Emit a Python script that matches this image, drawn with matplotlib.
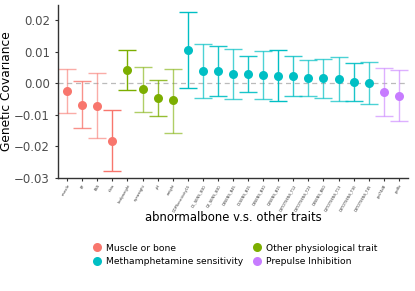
import matplotlib
matplotlib.use("Agg")
import matplotlib.pyplot as plt
from matplotlib.lines import Line2D

# trait names (tick labels are tiny in the source, approximated)
traits = ["muscle", "BF", "BSS", "tibia",
          "bodyweight", "eyeweight", "pH", "weight",
          "DOPSensitivity15", "D1_SENS_B30", "D2_SENS_B30", "D3SENS_B45",
          "D1SENS_B15", "D3SENS_B30", "D2SENS_B15", "D3TOTSENS_T12",
          "D3TOTSENS_T23", "D3SENS_B60", "D2TOTSENS_T13", "D3TOTSENS_T30",
          "D3TOTSENS_T45", "ppi74dB", "ppi8x"]
groups = ["Muscle or bone"] * 4 + ["Other physiological trait"] * 4 + \
         ["Methamphetamine sensitivity"] * 13 + ["Prepulse Inhibition"] * 2
cov = [-0.0024, -0.0069, -0.0071, -0.0182,
       0.0041, -0.0018, -0.0048, -0.0054,
       0.0106, 0.0039, 0.0039, 0.0031, 0.0031, 0.0025, 0.0024,
       0.0022, 0.0018, 0.0017, 0.0014, 0.0003, 0.0001,
       -0.0028, -0.0039]
upper = [0.0046, 0.0007, 0.0034, -0.0086,
         0.0106, 0.0053, 0.0010, 0.0046,
         0.0225, 0.0123, 0.0118, 0.0109, 0.0088, 0.0103, 0.0105,
         0.0085, 0.0073, 0.0078, 0.0082, 0.0064, 0.0068,
         0.0047, 0.0041]
lower = [-0.0094, -0.0143, -0.0173, -0.0276,
         -0.0022, -0.0091, -0.0104, -0.0156,
         -0.0014, -0.0045, -0.0040, -0.0049, -0.0028, -0.0051, -0.0056,
         -0.0041, -0.0039, -0.0046, -0.0055, -0.0057, -0.0067,
         -0.0102, -0.0120]
bar_alpha = [0.6, 0.8, 0.6, 1.0,
             1.0, 0.6, 0.8, 0.6,
             1.0, 0.7, 0.9, 0.7, 0.9, 0.7, 1.0,
             0.8, 0.7, 0.7, 0.7, 0.9, 0.7,
             0.6, 0.6]

palette = {"Muscle or bone": "#F8766D",
           "Other physiological trait": "#7CAE00",
           "Methamphetamine sensitivity": "#00BFC4",
           "Prepulse Inhibition": "#C77CFF"}

fig = plt.figure(figsize=(4.15, 2.91), dpi=100)
ax = fig.add_axes([0.14, 0.388, 0.843, 0.595])

ax.axhline(0, color="#bbbbbb", ls=(0, (4, 3)), lw=0.9, zorder=0)
for i, (c, lo, hi, g, a) in enumerate(zip(cov, lower, upper, groups, bar_alpha)):
    col = palette[g]
    ax.errorbar(i, c, yerr=[[c - lo], [hi - c]], fmt="none", ecolor=col,
                alpha=a, elinewidth=1.0, capsize=6.5, capthick=1.0)
    ax.plot(i, c, "o", color=col, ms=6.5, mew=0)

ax.set_xlim(-0.6, len(traits) - 0.4)
ax.set_ylim(-0.03, 0.0248)
ax.set_yticks([-0.03, -0.02, -0.01, 0.0, 0.01, 0.02])
ax.set_yticklabels(["\u22120.03", "\u22120.02", "\u22120.01", "0.00", "0.01", "0.02"])
ax.set_xticks(range(len(traits)))
ax.set_xticklabels(traits, rotation=60, ha="right", rotation_mode="anchor",
                   fontsize=2.6, color="#555555")
ax.tick_params(axis="y", labelsize=8.5, colors="#333333", length=2.5, labelcolor="#4d4d4d")
ax.tick_params(axis="x", length=2.5, colors="#333333", pad=1.5)
for s in ["top", "right"]:
    ax.spines[s].set_visible(False)
for s in ["left", "bottom"]:
    ax.spines[s].set_color("#333333")
    ax.spines[s].set_linewidth(1.0)
ax.set_ylabel("Genetic Covariance", fontsize=8.8)
ax.yaxis.set_label_coords(-0.128, 0.5)

fig.text(0.561, 0.254, "abnormalbone v.s. other traits", ha="center", va="center",
         fontsize=8.4)

handles = [Line2D([], [], marker="o", ls="", color=palette[k], ms=6.5, mew=0,
                  label=k) for k in palette]
order = [handles[0], handles[2], handles[1], handles[3]]
fig.legend(handles=order, ncol=2, loc="center", bbox_to_anchor=(0.565, 0.124),
           frameon=False, fontsize=6.6, handletextpad=0.4, columnspacing=0.9,
           labelspacing=0.5, handlelength=1.2)

fig.savefig("out.png", dpi=100)
